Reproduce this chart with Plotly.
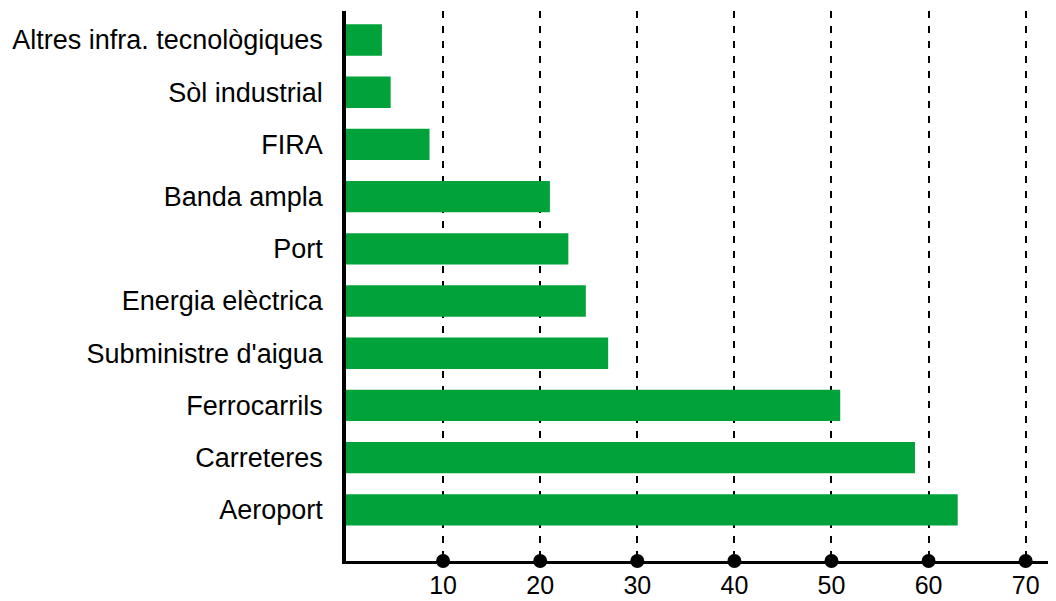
import plotly.graph_objects as go

categories = ["Aeroport", "Carreteres", "Ferrocarrils", "Subministre d'aigua",
              "Energia elèctrica", "Port", "Banda ampla", "FIRA",
              "Sòl industrial", "Altres infra. tecnològiques"]
values = [63.0, 58.6, 50.9, 27.0, 24.7, 22.9, 21.0, 8.6, 4.6, 3.7]
tick_values = [10, 20, 30, 40, 50, 60, 70]
tick_labels = ["10", "20", "30", "40", "50", "60", "70"]

GREEN = "#00A239"

fig = go.Figure()
fig.add_trace(go.Bar(
    y=categories, x=values, orientation="h",
    marker=dict(color=GREEN, line=dict(width=0)),
    width=0.6, showlegend=False, hoverinfo="x+y",
))
# tick dots on the x axis line
fig.add_trace(go.Scatter(
    x=tick_values, y=[0] * len(tick_values), yaxis="y2",
    mode="markers", marker=dict(color="black", size=14, line=dict(width=0)),
    cliponaxis=False, showlegend=False, hoverinfo="skip",
))

fig.update_layout(
    width=1056, height=601,
    margin=dict(l=346, r=8, t=11, b=40, autoexpand=False),
    paper_bgcolor="white", plot_bgcolor="white",
    bargap=0.4,
    xaxis=dict(
        range=[0, 72.3], tickvals=tick_values, ticktext=tick_labels,
        showgrid=True, gridcolor="black", gridwidth=1.5, griddash="7px,8px",
        zeroline=False, showline=True, linecolor="black", linewidth=3,
        ticks="", ticklabelstandoff=0, automargin=False,
        tickfont=dict(family="Liberation Sans, Arial", size=25, color="black"),
    ),
    yaxis=dict(
        range=[-0.98, 9.556], categoryorder="array", categoryarray=categories,
        showgrid=False, zeroline=False, showline=True, linecolor="black", linewidth=3.5,
        ticks="", ticklabelstandoff=14, automargin=False,
        tickfont=dict(family="Liberation Sans, Arial", size=27, color="black"),
    ),
    yaxis2=dict(range=[0, 1], overlaying="y", visible=False, fixedrange=True),
)

fig.write_html("out.html", config={"displayModeBar": False},
               post_script="document.body.style.margin='0';document.body.style.overflow='hidden';")
